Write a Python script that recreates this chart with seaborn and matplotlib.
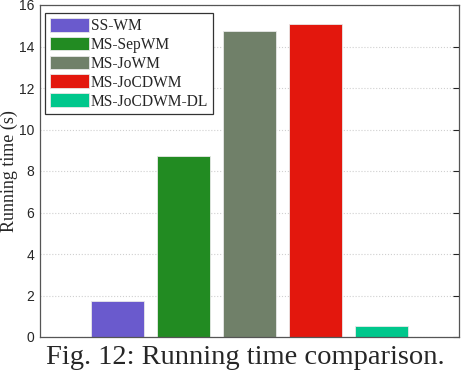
import matplotlib
matplotlib.use("Agg")
import matplotlib.pyplot as plt
import seaborn as sns
import pandas as pd

methods = ["SS-WM", "MS-SepWM", "MS-JoWM", "MS-JoCDWM", "MS-JoCDWM-DL"]
times = [1.72, 8.72, 14.76, 15.1, 0.53]
colors = ["#6A5ACD", "#228B22", "#708069", "#E3170D", "#00C78C"]
yticks = [0, 2, 4, 6, 8, 10, 12, 14, 16]

df = pd.DataFrame({"method": methods, "time": times})

sns.set_style("white")
serif = ["Liberation Serif", "DejaVu Serif"]
sansf = ["Liberation Sans", "DejaVu Sans"]

fig = plt.figure(figsize=(4.62, 3.76), dpi=100)
ax = fig.add_axes([40 / 462, 1 - 337 / 376, 419 / 462, 332 / 376])

sns.barplot(data=df, x="method", y="time", hue="method", palette=colors,
            dodge=False, width=0.8, legend=True, ax=ax,
            edgecolor="#e8e8e8", linewidth=0.6, saturation=1)

ax.set_xlim(-1.18, 4.18 + 1)
ax.set_ylim(0, 16)
ax.set_yticks(yticks)
ax.set_yticklabels([str(t) for t in yticks], fontfamily=sansf, fontsize=10,
                   color="#333333")
ax.set_xticks([])
ax.set_xlabel("")
ax.set_ylabel("Running time (s)", fontfamily=serif, fontsize=13)
ax.yaxis.set_label_coords(-0.052, 0.5)
ax.yaxis.grid(True, linestyle=":", color="#d0d0d0", linewidth=0.8)
ax.set_axisbelow(True)
ax.tick_params(axis="y", direction="in", length=4, width=0.8, right=True,
               colors="#262626", pad=4)
for s in ax.spines.values():
    s.set_color("#555555")
    s.set_linewidth(0.9)

leg = ax.legend(loc="upper left", bbox_to_anchor=(0.012, 0.976), frameon=True,
                fancybox=False, edgecolor="#333333", framealpha=1,
                prop={"family": serif, "size": 11.2}, handlelength=2.5,
                handleheight=1.0, labelspacing=0.17, borderpad=0.3,
                handletextpad=0.15, borderaxespad=0)
leg.get_frame().set_linewidth(0.9)

fig.text(245 / 462, 1 - 358 / 376, "Fig. 12: Running time comparison.",
         ha="center", va="center", fontfamily=serif, fontsize=20.5)

fig.savefig("out.png", dpi=100)
